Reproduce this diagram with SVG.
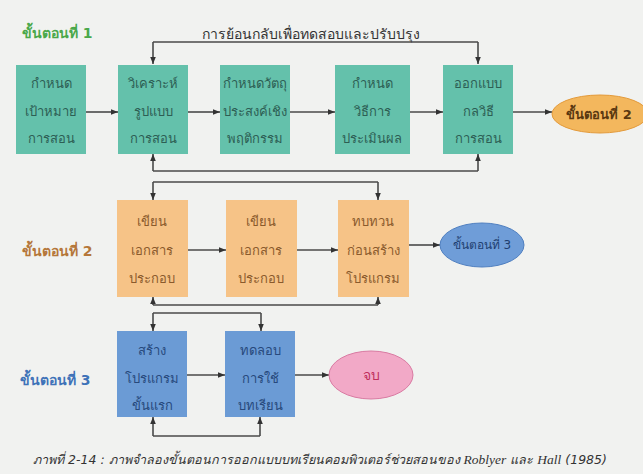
<svg xmlns="http://www.w3.org/2000/svg" width="643" height="474" viewBox="0 0 643 474">
<style>
text{font-family:"DejaVu Sans","Noto Sans",sans-serif;text-anchor:middle;dominant-baseline:central}
.t{fill:#64c1ab}
.o{fill:#f6c387}
.b{fill:#6b9bd5}
.tt{font-size:13px;fill:#2d5e54}
.ot{font-size:13px;fill:#8a5a2c}
.bt{font-size:13px;fill:#27497c}
.ln{fill:none;stroke:#4a4a4a;stroke-width:1.6}
.lab{font-size:14px;font-weight:bold;text-anchor:start}
</style>
<defs>
<marker id="ah" viewBox="0 0 10 10" refX="10" refY="5" markerWidth="7" markerHeight="7" orient="auto" markerUnits="userSpaceOnUse">
<path d="M0,1 L10,5 L0,9 Z" fill="#333"/>
</marker>
</defs>
<rect width="643" height="474" fill="#f1f2f0"/>

<text class="lab" x="22" y="33" fill="#4aa84a">ขั้นตอนที่ 1</text>
<text class="lab" x="22" y="251" fill="#b5773a">ขั้นตอนที่ 2</text>
<text class="lab" x="20" y="380" fill="#3f73b8">ขั้นตอนที่ 3</text>
<text x="311" y="34" font-size="14" fill="#333">การย้อนกลับเพื่อทดสอบและปรับปรุง</text>

<g id="connectors" class="ln">
<path d="M86,112 H118" marker-end="url(#ah)"/>
<path d="M188,112 H220" marker-end="url(#ah)"/>
<path d="M290,112 H335" marker-end="url(#ah)"/>
<path d="M410,112 H443" marker-end="url(#ah)"/>
<path d="M513,112 H552" marker-end="url(#ah)"/>
<path d="M153,42 H478"/>
<path d="M153,42 V64" marker-end="url(#ah)"/>
<path d="M478,42 V64" marker-end="url(#ah)"/>
<path d="M153,171 H478"/>
<path d="M153,171 V154" marker-end="url(#ah)"/>
<path d="M478,171 V154" marker-end="url(#ah)"/>
<path d="M153,182 H378"/>
<path d="M153,182 V200" marker-end="url(#ah)"/>
<path d="M378,182 V200" marker-end="url(#ah)"/>
<path d="M188,250 H226" marker-end="url(#ah)"/>
<path d="M297,250 H338" marker-end="url(#ah)"/>
<path d="M409,245 H440" marker-end="url(#ah)"/>
<path d="M153,305 H378"/>
<path d="M153,305 V297" marker-end="url(#ah)"/>
<path d="M378,305 V297" marker-end="url(#ah)"/>
<path d="M153,313 H261"/>
<path d="M153,313 V331" marker-end="url(#ah)"/>
<path d="M261,313 V331" marker-end="url(#ah)"/>
<path d="M187,375 H225" marker-end="url(#ah)"/>
<path d="M295,375 H329" marker-end="url(#ah)"/>
<path d="M153,436 H260"/>
<path d="M153,436 V417" marker-end="url(#ah)"/>
<path d="M260,436 V417" marker-end="url(#ah)"/>
</g>

<g id="n1"><rect class="t" x="16" y="65" width="70" height="89"/>
<text class="tt" x="51" y="83">กำหนด</text><text class="tt" x="51" y="111">เป้าหมาย</text><text class="tt" x="51" y="138">การสอน</text></g>
<g id="n2"><rect class="t" x="118" y="65" width="70" height="89"/>
<text class="tt" x="153" y="83">วิเคราะห์</text><text class="tt" x="153" y="111">รูปแบบ</text><text class="tt" x="153" y="138">การสอน</text></g>
<g id="n3"><rect class="t" x="220" y="65" width="70" height="89"/>
<text class="tt" x="255" y="83">กำหนดวัตถุ</text><text class="tt" x="255" y="111">ประสงค์เชิง</text><text class="tt" x="255" y="138">พฤติกรรม</text></g>
<g id="n4"><rect class="t" x="335" y="65" width="75" height="89"/>
<text class="tt" x="372" y="83">กำหนด</text><text class="tt" x="372" y="111">วิธีการ</text><text class="tt" x="372" y="138">ประเมินผล</text></g>
<g id="n5"><rect class="t" x="443" y="65" width="70" height="89"/>
<text class="tt" x="478" y="83">ออกแบบ</text><text class="tt" x="478" y="111">กลวิธี</text><text class="tt" x="478" y="138">การสอน</text></g>
<g id="e2"><ellipse cx="600" cy="114" rx="48" ry="19" fill="#f3b75d" stroke="#e39a3a" stroke-width="1"/>
<text x="599" y="114" font-size="13" font-weight="bold" fill="#5a3810">ขั้นตอนที่ 2</text></g>

<g id="m1"><rect class="o" x="117" y="200" width="71" height="97"/>
<text class="ot" x="152" y="221">เขียน</text><text class="ot" x="152" y="250">เอกสาร</text><text class="ot" x="152" y="278">ประกอบ</text></g>
<g id="m2"><rect class="o" x="226" y="200" width="71" height="97"/>
<text class="ot" x="261" y="221">เขียน</text><text class="ot" x="261" y="250">เอกสาร</text><text class="ot" x="261" y="278">ประกอบ</text></g>
<g id="m3"><rect class="o" x="338" y="200" width="71" height="97"/>
<text class="ot" x="373" y="221">ทบทวน</text><text class="ot" x="373" y="250">ก่อนสร้าง</text><text class="ot" x="373" y="278">โปรแกรม</text></g>
<g id="e3"><ellipse cx="482" cy="245" rx="42" ry="22" fill="#6f9dd8" stroke="#4f7fc0" stroke-width="1"/>
<text x="482" y="245" font-size="12" fill="#1f3f70">ขั้นตอนที่ 3</text></g>

<g id="b1"><rect class="b" x="117" y="331" width="70" height="86"/>
<text class="bt" x="152" y="350">สร้าง</text><text class="bt" x="152" y="378">โปรแกรม</text><text class="bt" x="152" y="405">ขั้นแรก</text></g>
<g id="b2"><rect class="b" x="225" y="331" width="70" height="86"/>
<text class="bt" x="260" y="350">ทดลอบ</text><text class="bt" x="260" y="378">การใช้</text><text class="bt" x="260" y="405">บทเรียน</text></g>
<g id="end"><ellipse cx="371" cy="375" rx="42" ry="24" fill="#f2a9c7" stroke="#d97aa2" stroke-width="1"/>
<text x="371" y="375" font-size="14" fill="#c0305e">จบ</text></g>

<text x="320" y="459" font-size="12.5" font-style="italic" fill="#333">ภาพที่ 2-14 : ภาพจำลองขั้นตอนการออกแบบบทเรียนคอมพิวเตอร์ช่วยสอนของ <tspan font-family="Liberation Serif" font-size="13.5">Roblyer</tspan> และ <tspan font-family="Liberation Serif" font-size="13.5">Hall</tspan> (1985)</text>
</svg>
